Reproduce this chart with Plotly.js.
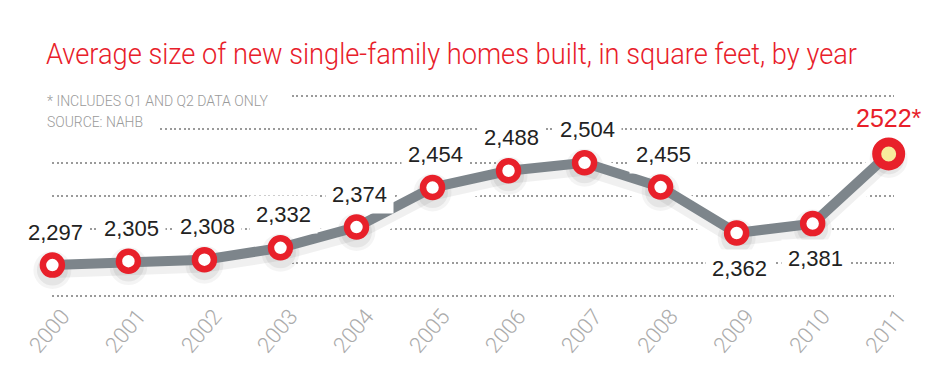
<!DOCTYPE html>
<html>
<head>
<meta charset="utf-8">
<script src="https://cdn.plot.ly/plotly-3.0.1.min.js"></script>
<style>html,body{margin:0;padding:0;background:#fff;}#chart{width:947px;height:385px;}</style>
</head>
<body>
<div id="chart"></div>
<script>
// ---- data ----
var years = [2000, 2001, 2002, 2003, 2004, 2005, 2006, 2007, 2008, 2009, 2010, 2011];
var avgSize = [2297, 2305, 2308, 2332, 2374, 2454, 2488, 2504, 2455, 2362, 2381, 2522];
var pointLabels = ["2,297", "2,305", "2,308", "2,332", "2,374", "2,454", "2,488", "2,504", "2,455", "2,362", "2,381", "2522*"];
var tickLabels = ["2000", "2001", "2002", "2003", "2004", "2005", "2006", "2007", "2008", "2009", "2010", "2011"];
var labelBelowYears = [2009, 2010];
var partialYear = 2011;
var titleText = "Average size of new single-family homes built, in square feet, by year";
var noteText = "* INCLUDES Q1 AND Q2 DATA ONLY";
var sourceText = "SOURCE: NAHB";

// ---- styles ----
var RED = "#e8202a";
var LINE_GRAY = "#7d858b";
var GRID_GRAY = "#9a9a9a";

var yMin = 2234.5, yMax = 2639.3;     // outermost dotted guide lines
var yDtick = (yMax - yMin) / 6;
var yPad = 12.14;                      // keeps edge guide lines inside the plot area
var shadowShift = 10;                  // data units (~5px) for drop-shadow axis

var lastIdx = years.indexOf(partialYear);
var mainYears = years.filter(function (y) { return y !== partialYear; });
var mainVals = avgSize.filter(function (v, i) { return years[i] !== partialYear; });

var traces = [
  // shadow layer (base axis, slightly shifted down)
  { x: years, y: avgSize, type: "scatter", mode: "lines", yaxis: "y",
    line: { color: "#ffffff", width: 26 }, hoverinfo: "skip", cliponaxis: false },
  { x: years, y: avgSize, type: "scatter", mode: "lines", yaxis: "y",
    line: { color: "rgba(0,0,0,0.06)", width: 16 }, hoverinfo: "skip", cliponaxis: false },
  { x: years, y: avgSize, type: "scatter", mode: "markers", yaxis: "y",
    marker: { size: 38, color: "rgba(0,0,0,0.045)" }, hoverinfo: "skip", cliponaxis: false },
  { x: years, y: avgSize, type: "scatter", mode: "markers", yaxis: "y",
    marker: { size: 31, color: "rgba(0,0,0,0.06)" }, hoverinfo: "skip", cliponaxis: false },
  // main layer
  { x: years, y: avgSize, type: "scatter", mode: "lines", yaxis: "y2",
    line: { color: LINE_GRAY, width: 10 }, hoverinfo: "skip", cliponaxis: false },
  { x: mainYears, y: mainVals, type: "scatter", mode: "markers", yaxis: "y2",
    marker: { size: 19, color: "#ffffff", line: { color: RED, width: 6.5 } }, cliponaxis: false },
  { x: [years[lastIdx]], y: [avgSize[lastIdx]], type: "scatter", mode: "markers", yaxis: "y2",
    marker: { size: 24, color: "#f7ec9c", line: { color: RED, width: 9 } }, cliponaxis: false }
];

var annotations = years.map(function (yr, i) {
  var below = labelBelowYears.indexOf(yr) >= 0;
  var isPartial = yr === partialYear;
  return {
    x: yr, y: avgSize[i], xref: "x", yref: "y2",
    text: pointLabels[i], showarrow: false,
    xshift: isPartial ? 0 : 3,
    yshift: below ? -35 : (isPartial ? 36 : 33),
    font: { family: "Liberation Sans, Arial, sans-serif", size: isPartial ? 25 : 22, color: isPartial ? RED : "#222222" },
    bgcolor: "#ffffff", borderpad: isPartial ? 2 : 6
  };
});

var plotL = 52, plotR = 53, plotT = 90, plotB = 83;
var plotW = 947 - plotL - plotR, plotH = 385 - plotT - plotB;
function paperX(px) { return (px - plotL) / plotW; }
function paperY(py) { return (385 - plotB - py) / plotH; }
annotations.push({
  xref: "paper", yref: "paper", x: paperX(40), y: paperY(101), xanchor: "left", yanchor: "middle",
  text: noteText, showarrow: false,
  font: { family: "Roboto, Liberation Sans, sans-serif", size: 15, color: "#9a9a9a", weight: 300 },
  bgcolor: "#ffffff", borderpad: 6
});
annotations.push({
  xref: "paper", yref: "paper", x: paperX(40), y: paperY(121.5), xanchor: "left", yanchor: "middle",
  text: sourceText, showarrow: false,
  font: { family: "Roboto, Liberation Sans, sans-serif", size: 15, color: "#9a9a9a", weight: 300 },
  bgcolor: "#ffffff", borderpad: 6
});

var layout = {
  width: 947, height: 385,
  margin: { l: plotL, r: plotR, t: plotT, b: plotB },
  paper_bgcolor: "#ffffff", plot_bgcolor: "#ffffff",
  showlegend: false,
  title: {
    text: titleText, x: 46 / 947, xanchor: "left", xref: "container",
    y: 1 - 53 / 385, yanchor: "middle", yref: "container",
    font: { family: "Roboto, Liberation Sans, sans-serif", size: 30, color: RED, weight: 300 }
  },
  xaxis: {
    range: [1999.995, 2011.07],
    tickmode: "array", tickvals: years, ticktext: tickLabels,
    tickangle: -50, showgrid: false, zeroline: false, showline: false, ticks: "",
    ticklabelstandoff: -4, ticklabelshift: 10,
    tickfont: { family: "Roboto, sans-serif", size: 22, color: "#ababab", weight: 300 },
    fixedrange: true
  },
  yaxis: {
    range: [yMin - yPad + shadowShift, yMax + yPad + shadowShift],
    showticklabels: false, ticks: "", zeroline: false, showline: false, showgrid: false,
    fixedrange: true
  },
  yaxis2: {
    overlaying: "y",
    range: [yMin - yPad, yMax + yPad], tickmode: "linear", tick0: yMin, dtick: yDtick,
    showticklabels: false, ticks: "", zeroline: false, showline: false,
    showgrid: true, gridcolor: GRID_GRAY, gridwidth: 2, griddash: "2px,2.7px",
    fixedrange: true
  },
  annotations: annotations
};

function squeeze(el, width) {
  if (!el) return;
  var bb = el.getBBox();
  el.setAttribute("text-anchor", "start");
  el.setAttribute("x", bb.x);
  el.setAttribute("textLength", width);
  el.setAttribute("lengthAdjust", "spacingAndGlyphs");
}

Plotly.newPlot("chart", traces, layout, { displayModeBar: false, staticPlot: true }).then(function (gd) {
  squeeze(gd.querySelector(".gtitle"), 811);
  var texts = gd.querySelectorAll(".annotation-text");
  texts.forEach(function (t) {
    if (t.textContent === noteText) squeeze(t, 221);
    if (t.textContent === sourceText) squeeze(t, 96);
  });
});
</script>
</body>
</html>
